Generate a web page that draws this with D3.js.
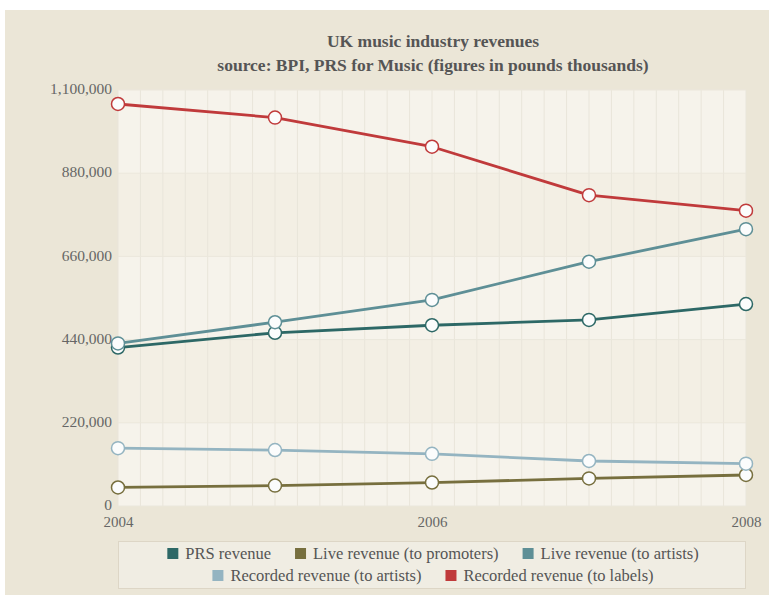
<!DOCTYPE html>
<html>
<head>
<meta charset="utf-8">
<script src="https://cdn.jsdelivr.net/npm/d3@7"></script>
<style>
  html, body { margin: 0; padding: 0; background: #ffffff; }
  svg { display: block; }
</style>
</head>
<body>
<svg id="chart" width="769" height="601"></svg>
<script>
const years = [2004, 2005, 2006, 2007, 2008];
const seriesNames = ["PRS revenue", "Live revenue (to promoters)", "Live revenue (to artists)", "Recorded revenue (to artists)", "Recorded revenue (to labels)"];
const seriesColors = ["#2d6866", "#776f3e", "#5e8f96", "#94b4c1", "#c03a3b"];
const prsRevenue = [419000, 458000, 478000, 492000, 534000];
const liveToPromoters = [49000, 54000, 62000, 73000, 82000];
const liveToArtists = [430000, 486000, 545000, 646000, 732000];
const recordedToArtists = [153000, 148000, 138000, 119000, 112000];
const recordedToLabels = [1063000, 1027000, 950000, 822000, 781000];
const yTicks = [0, 220000, 440000, 660000, 880000, 1100000];
const xTickLabels = [2004, 2006, 2008];

const seriesValues = [prsRevenue, liveToPromoters, liveToArtists, recordedToArtists, recordedToLabels];

const svg = d3.select("#chart");
const W = 769, H = 601;
const plot = { left: 118, right: 746, top: 90, bottom: 506 };
const serif = "'Liberation Serif', 'DejaVu Serif', serif";

// outer background
svg.append("rect").attr("x", 5).attr("y", 10).attr("width", W - 5).attr("height", 585).attr("fill", "#ebe6d7");

const x = d3.scaleLinear().domain([2004, 2008]).range([plot.left, plot.right]);
const y = d3.scaleLinear().domain([0, 1100000]).range([plot.bottom, plot.top]);

// plot background bands
svg.append("rect").attr("x", plot.left).attr("y", plot.top)
  .attr("width", plot.right - plot.left).attr("height", plot.bottom - plot.top).attr("fill", "#f6f3eb");
const bands = d3.pairs(yTicks).filter((d, i) => i % 2 === 1);
svg.append("g").selectAll("rect").data(bands).join("rect")
  .attr("x", plot.left).attr("width", plot.right - plot.left)
  .attr("y", d => y(d[1])).attr("height", d => y(d[0]) - y(d[1]))
  .attr("fill", "#f3efe4");

// vertical grid lines (7 per year)
const vGrid = d3.range(0, 29).map(i => 2004 + i / 7);
svg.append("g").selectAll("line").data(vGrid).join("line")
  .attr("x1", d => x(d)).attr("x2", d => x(d))
  .attr("y1", plot.top).attr("y2", plot.bottom)
  .attr("stroke", "#e9e5da").attr("stroke-width", 1);

// horizontal grid lines
svg.append("g").selectAll("line").data(yTicks).join("line")
  .attr("x1", plot.left).attr("x2", plot.right)
  .attr("y1", d => y(d)).attr("y2", d => y(d))
  .attr("stroke", "#ebe7dc").attr("stroke-width", 1);

// y axis
const yAxis = d3.axisLeft(y).tickValues(yTicks).tickSize(0).tickPadding(6)
  .tickFormat(d3.format(","));
const gy = svg.append("g").attr("transform", `translate(${plot.left},0)`).call(yAxis);
gy.select(".domain").remove();
gy.selectAll("text").attr("font-family", serif).attr("font-size", 15.5).attr("fill", "#666")
  .attr("dy", "0.24em");

// x axis
const xAxis = d3.axisBottom(x).tickValues(xTickLabels).tickSize(0).tickPadding(10)
  .tickFormat(d3.format("d"));
const gx = svg.append("g").attr("transform", `translate(0,${plot.bottom})`).call(xAxis);
gx.select(".domain").remove();
gx.selectAll("text").attr("font-family", serif).attr("font-size", 15).attr("fill", "#666")
  .attr("dy", "0.76em");

// lines
const line = d3.line().x((d, i) => x(years[i])).y(d => y(d));
seriesValues.forEach((vals, si) => {
  svg.append("path").datum(vals).attr("d", line)
    .attr("fill", "none").attr("stroke", seriesColors[si]).attr("stroke-width", 2.8)
    .attr("stroke-linejoin", "round");
});
seriesValues.forEach((vals, si) => {
  svg.append("g").selectAll("circle").data(vals).join("circle")
    .attr("cx", (d, i) => x(years[i])).attr("cy", d => y(d)).attr("r", 6.5)
    .attr("fill", "#fbfcfc").attr("stroke", seriesColors[si]).attr("stroke-width", 1.5);
});

// title
svg.append("text").attr("x", 433).attr("y", 47).attr("text-anchor", "middle")
  .attr("font-family", serif).attr("font-weight", "bold").attr("font-size", 17.5).attr("fill", "#555")
  .text("UK music industry revenues");
svg.append("text").attr("x", 433).attr("y", 71).attr("text-anchor", "middle")
  .attr("font-family", serif).attr("font-weight", "bold").attr("font-size", 17.5).attr("fill", "#555")
  .text("source: BPI, PRS for Music (figures in pounds thousands)");

// legend
svg.append("rect").attr("x", 118.5).attr("y", 541.5).attr("width", 627).attr("height", 47)
  .attr("fill", "#f0ede3").attr("stroke", "#ddd6c6").attr("stroke-width", 1);
const legendRows = [[0, 1, 2], [3, 4]];
const legendG = svg.append("g");
legendRows.forEach((row, ri) => {
  const rowG = legendG.append("g");
  let cx = 0;
  row.forEach(si => {
    const item = rowG.append("g").attr("transform", `translate(${cx},0)`);
    item.append("rect").attr("x", 0).attr("y", -6).attr("width", 11).attr("height", 11).attr("fill", seriesColors[si]);
    const t = item.append("text").attr("x", 18).attr("y", 5)
      .attr("font-family", serif).attr("font-size", 16.5).attr("fill", "#555").text(seriesNames[si]);
    cx += 18 + t.node().getComputedTextLength() + 24;
  });
  const total = cx - 24;
  rowG.attr("transform", `translate(${433 - total / 2},${554 + ri * 22})`);
});
</script>
</body>
</html>
